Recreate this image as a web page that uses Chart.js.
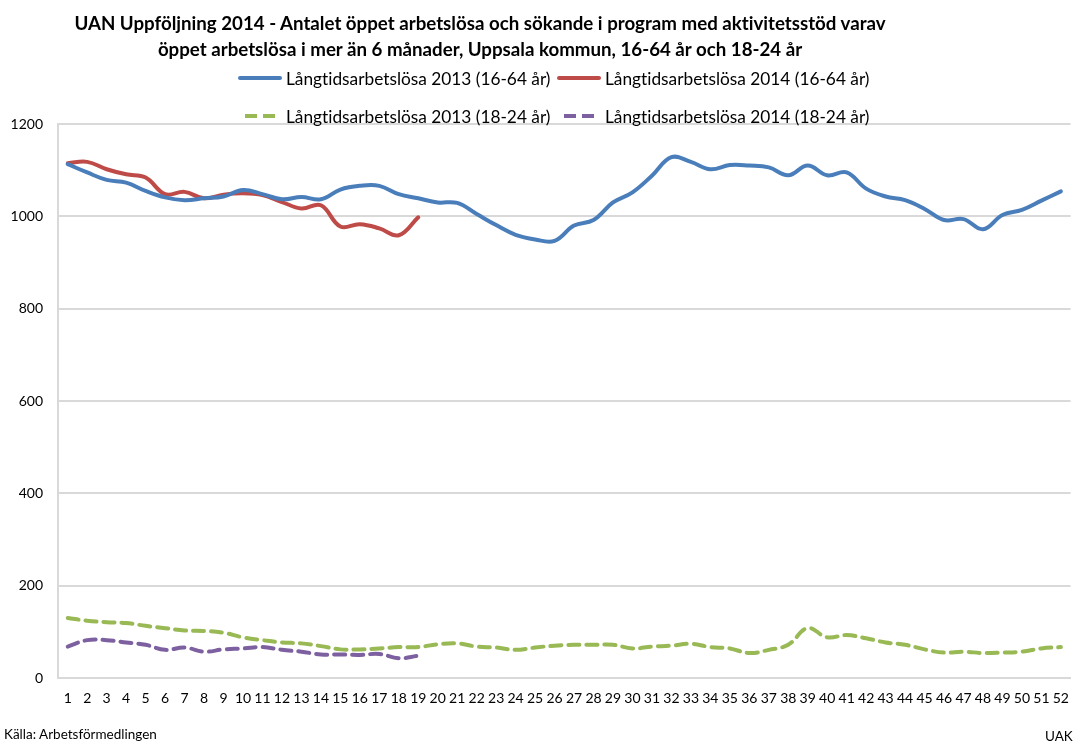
<!DOCTYPE html>
<html lang="sv">
<head>
<meta charset="UTF-8">
<title>UAN Uppföljning 2014</title>
<script src="https://cdn.jsdelivr.net/npm/chart.js"></script>
<style>
  body { margin: 0; background: #fff; }
  #wrap { position: relative; width: 1081px; height: 744px; overflow: hidden; font-variant-ligatures: none; }
  #chart { position: absolute; left: 0; top: 0; }
  .title { position: absolute; left: 0; width: 960px; text-align: center;
           font-family: "Lato", sans-serif; font-weight: bold;
           font-size: 18.7px; color: #000; white-space: nowrap; }
  .leg { position: absolute; display: flex; align-items: center; height: 22px;
         font-family: "Lato", "Noto Sans", sans-serif; font-size: 17.3px; color: #000; white-space: nowrap; }
  .sw { width: 44px; height: 4px; border-radius: 2px; margin-right: 4px; }
  .sw.dash { width: 30px; margin: 0 11px 0 7px; border-radius: 0; }
  .foot { position: absolute; font-family: "Lato", "Noto Sans", sans-serif; font-size: 13.5px; color: #000; }
</style>
</head>
<body>
<div id="wrap">
  <canvas id="chart" width="1081" height="744"></canvas>
  <div class="title" style="top:12px">UAN Uppföljning 2014 - Antalet öppet arbetslösa och sökande i program med aktivitetsstöd varav</div>
  <div class="title" style="top:38px">öppet arbetslösa i mer än 6 månader, Uppsala kommun, 16-64 år och 18-24 år</div>
  <div id="legend"></div>
  <div class="foot" style="left:4px; top:726px">Källa: Arbetsförmedlingen</div>
  <div class="foot" style="left:1045px; top:728px">UAK</div>
</div>
<script>
// veckor 1-52
const weeks = ['1','2','3','4','5','6','7','8','9','10','11','12','13','14','15','16','17','18','19','20',
  '21','22','23','24','25','26','27','28','29','30','31','32','33','34','35','36','37','38','39','40',
  '41','42','43','44','45','46','47','48','49','50','51','52'];

const long2013 = [1113,1095,1079,1073,1055,1041,1035,1039,1043,1057,1048,1037,1042,1037,1058,1066,1066,1048,1039,1030,
  1029,1005,981,960,950,947,980,992,1030,1052,1088,1128,1118,1102,1111,1110,1106,1089,1110,1089,
  1095,1060,1043,1035,1016,992,994,972,1003,1014,1034,1054];
const long2014 = [1115,1118,1102,1091,1084,1048,1053,1039,1047,1050,1046,1031,1017,1024,978,983,974,959,998];
const young2013 = [130,124,121,119,113,108,103,102,98,88,82,77,75,69,62,62,64,67,67,73,
  75,68,66,61,66,70,72,72,72,64,68,70,74,67,64,54,61,72,108,88,
  93,86,77,72,62,55,57,54,55,57,64,67];
const young2014 = [68,82,82,77,72,61,66,57,62,64,67,61,57,51,51,50,52,43,48];

const yTicks = [0, 200, 400, 600, 800, 1000, 1200];

const seriesNames = ['Långtidsarbetslösa 2013 (16-64 år)', 'Långtidsarbetslösa 2014 (16-64 år)',
  'Långtidsarbetslösa 2013 (18-24 år)', 'Långtidsarbetslösa 2014 (18-24 år)'];
const colors = ['#4a7ebb', '#be4b48', '#98b954', '#7d60a0'];

// legend i html, två rader som i Excel
const legPos = [[238, 67], [557, 67], [238, 105], [557, 105]];
const legend = document.getElementById('legend');
seriesNames.forEach((name, i) => {
  const d = document.createElement('div');
  d.className = 'leg';
  d.style.left = legPos[i][0] + 'px';
  d.style.top = legPos[i][1] + 'px';
  const sw = document.createElement('span');
  if (i < 2) {
    sw.className = 'sw';
    sw.style.background = colors[i];
  } else {
    sw.className = 'sw dash';
    sw.style.background = `repeating-linear-gradient(to right, ${colors[i]} 0 12px, transparent 12px 18px)`;
  }
  d.appendChild(sw);
  d.appendChild(document.createTextNode(name));
  legend.appendChild(d);
});

const tickFont = { family: 'Lato, "Noto Sans", sans-serif', size: 14 };

new Chart(document.getElementById('chart'), {
  type: 'line',
  data: {
    labels: weeks,
    datasets: [
      { label: seriesNames[0], data: long2013, borderColor: colors[0], borderWidth: 4 },
      { label: seriesNames[1], data: long2014, borderColor: colors[1], borderWidth: 4 },
      { label: seriesNames[2], data: young2013, borderColor: colors[2], borderWidth: 4, borderDash: [11, 7] },
      { label: seriesNames[3], data: young2014, borderColor: colors[3], borderWidth: 4, borderDash: [11, 7] }
    ]
  },
  options: {
    responsive: false,
    animation: false,
    layout: { padding: { top: 124, right: 1, bottom: 0, left: 0 } },
    elements: {
      point: { radius: 0 },
      line: { tension: 0.4, borderCapStyle: 'round', borderJoinStyle: 'round', fill: false }
    },
    plugins: { legend: { display: false }, tooltip: { enabled: false } },
    scales: {
      x: {
        offset: true,
        grid: { display: false, drawTicks: false },
        border: { color: '#d9d9d9', width: 2 },
        ticks: { color: '#000', font: tickFont, padding: 12, maxRotation: 0, autoSkip: false },
        afterFit: s => { s.height = 66; }
      },
      y: {
        min: 0,
        max: 1200,
        afterBuildTicks: s => { s.ticks = yTicks.map(v => ({ value: v })); },
        grid: { color: '#d9d9d9', lineWidth: 2, drawTicks: false },
        border: { color: '#d9d9d9', width: 2 },
        ticks: { color: '#000', font: tickFont, padding: 15, callback: v => String(v) },
        afterFit: s => { s.width = 58; }
      }
    }
  }
});
</script>
</body>
</html>
